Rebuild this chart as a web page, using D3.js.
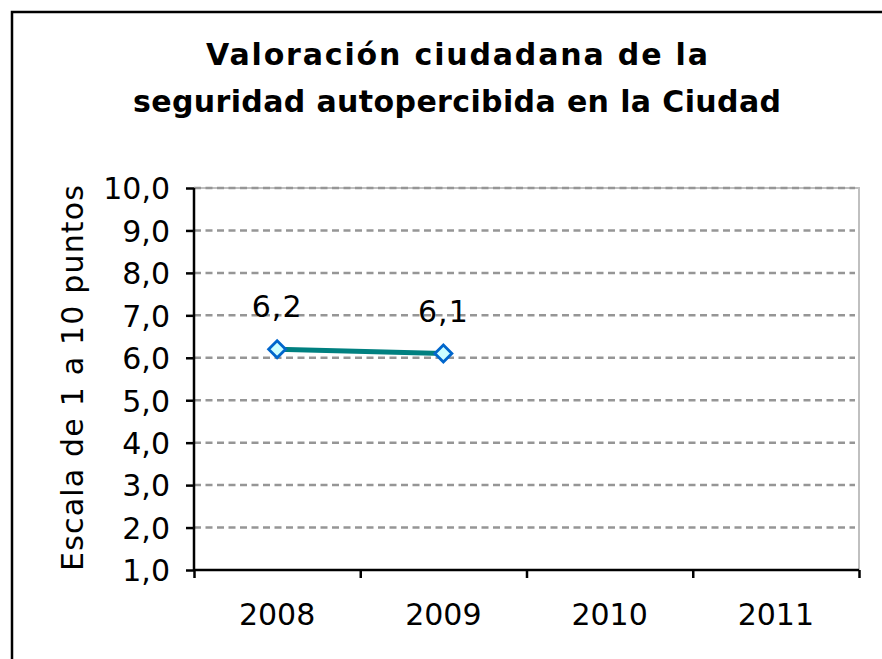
<!DOCTYPE html>
<html>
<head>
<meta charset="utf-8">
<script src="https://cdn.jsdelivr.net/npm/d3@7"></script>
<style>
  body { margin: 0; background: #fff; }
  svg { display: block; }
  text { font-family: "DejaVu Sans", Verdana, sans-serif; fill: #000; }
</style>
</head>
<body>
<div id="chart"></div>
<script>
var W = 882, H = 659;
var margin = {top: 188, right: 23, bottom: 89, left: 194};
var w = W - margin.left - margin.right,
    h = H - margin.top - margin.bottom;

var titleLines = ["Valoración ciudadana de la", "seguridad autopercibida en la Ciudad"];
var yTitle = "Escala de 1 a 10 puntos";
var years = ["2008", "2009", "2010", "2011"];
var valueYears = ["2008", "2009"];
var values = [6.2, 6.1];
var yTicks = [1, 2, 3, 4, 5, 6, 7, 8, 9, 10];

var fmt = function(v, digits) {
	return v.toFixed(digits).replace(".", ",");
};

var svg = d3.select("#chart")
			.append("svg")
			.attr("width", W)
			.attr("height", H);

// outer frame, runs off the right and bottom edge
svg.append("rect")
	.attr("x", 12)
	.attr("y", 12)
	.attr("width", W)
	.attr("height", H)
	.attr("fill", "none")
	.attr("stroke", "#000")
	.attr("stroke-width", 2.5);

/*Title*/
var titleWidths = [502, 648];
svg.selectAll(".title")
	.data(titleLines)
	.enter()
	.append("text")
	.attr("class", "title")
	.attr("x", 457)
	.attr("y", function(d, i) { return 65 + i * 47; })
	.attr("text-anchor", "middle")
	.attr("textLength", function(d, i) { return titleWidths[i]; })
	.attr("lengthAdjust", "spacing")
	.style("font-weight", "bold")
	.style("font-size", "30px")
	.text(function(d) { return d; });

var g = svg.append("g")
			.attr("transform", "translate(" + margin.left + "," + margin.top + ")");

/*Scales*/
var xScale = d3.scaleBand()
				.domain(years)
				.range([0, w]);
var yScale = d3.scaleLinear()
				.domain([1, 10])
				.range([h, 0]);

/*Plot area border (top + right)*/
g.append("path")
	.attr("d", "M0,0H" + w + "V" + h)
	.attr("fill", "none")
	.attr("stroke", "#c0c0c0")
	.attr("stroke-width", 2);

/*Grid*/
g.selectAll(".grid")
	.data(yTicks.slice(1))
	.enter()
	.append("line")
	.attr("class", "grid")
	.attr("x1", 0)
	.attr("x2", w - 4)
	.attr("y1", function(d) { return yScale(d); })
	.attr("y2", function(d) { return yScale(d); })
	.attr("stroke", "#969696")
	.attr("stroke-width", 2.5)
	.attr("stroke-dasharray", "7,4.5");

/*Axes*/
var yAxis = d3.axisLeft(yScale)
				.tickValues(yTicks)
				.tickSize(8)
				.tickPadding(16)
				.tickFormat(function(d) { return fmt(d, 1); });
var yG = g.append("g").call(yAxis);
yG.select(".domain").attr("stroke-width", 2.5).attr("d", "M0,0V" + h);
yG.selectAll(".tick line").attr("stroke-width", 2.5);
yG.selectAll(".tick text")
	.attr("font-family", null)
	.style("font-size", "30px")
	.attr("dy", "0.36em");

var xAxis = d3.axisBottom(d3.scaleLinear().domain([0, years.length]).range([0, w]))
				.tickValues(d3.range(years.length + 1))
				.tickSize(8)
				.tickFormat("");
var xG = g.append("g")
			.attr("transform", "translate(0," + h + ")")
			.call(xAxis);
xG.select(".domain").attr("stroke-width", 2.5).attr("d", "M0,0H" + w);
xG.selectAll(".tick line").attr("stroke-width", 2.5);

g.selectAll(".xlab")
	.data(years)
	.enter()
	.append("text")
	.attr("class", "xlab")
	.attr("x", function(d) { return xScale(d) + xScale.bandwidth() / 2; })
	.attr("y", h + 55)
	.attr("text-anchor", "middle")
	.style("font-size", "30px")
	.text(function(d) { return d; });

/*Y title*/
svg.append("text")
	.attr("transform", "translate(83,378) rotate(-90)")
	.attr("text-anchor", "middle")
	.attr("textLength", 386)
	.attr("lengthAdjust", "spacing")
	.style("font-size", "30px")
	.text(yTitle);

/*Line*/
var data = valueYears.map(function(d, i) { return {year: d, value: values[i]}; });
var line = d3.line()
				.x(function(d) { return xScale(d.year) + xScale.bandwidth() / 2; })
				.y(function(d) { return yScale(d.value); });
g.append("path")
	.datum(data)
	.attr("d", line)
	.attr("fill", "none")
	.attr("stroke", "#008080")
	.attr("stroke-width", 5);

g.selectAll(".pt")
	.data(data)
	.enter()
	.append("path")
	.attr("class", "pt")
	.attr("transform", function(d) {
		return "translate(" + (xScale(d.year) + xScale.bandwidth() / 2) + "," + yScale(d.value) + ")";
	})
	.attr("d", "M0,-8.5L8.5,0L0,8.5L-8.5,0Z")
	.attr("fill", "#ccffff")
	.attr("stroke", "#0066cc")
	.attr("stroke-width", 2.8);

g.selectAll(".lbl")
	.data(data)
	.enter()
	.append("text")
	.attr("class", "lbl")
	.attr("x", function(d) { return xScale(d.year) + xScale.bandwidth() / 2; })
	.attr("y", function(d) { return yScale(d.value) - 32; })
	.attr("text-anchor", "middle")
	.style("font-size", "30px")
	.style("letter-spacing", "1px")
	.text(function(d) { return fmt(d.value, 1); });
</script>
</body>
</html>
